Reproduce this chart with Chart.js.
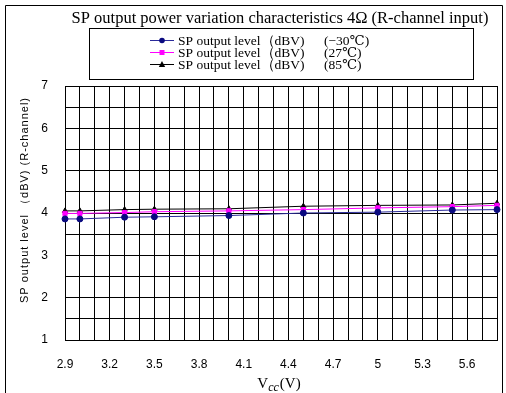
<!DOCTYPE html>
<html><head><meta charset="utf-8">
<script src="https://cdn.jsdelivr.net/npm/chart.js@4/dist/chart.umd.min.js"></script>
<style>html,body{margin:0;padding:0;background:#fff}canvas{display:block}</style>
</head><body>
<canvas id="c" width="506" height="393"></canvas>
<script>
const vcc = [2.9, 3.0, 3.3, 3.5, 4.0, 4.5, 5.0, 5.5, 5.8];
const levelM30 = [3.86, 3.86, 3.90, 3.91, 3.94, 4.00, 4.02, 4.07, 4.08];
const level27  = [3.99, 3.99, 4.01, 4.03, 4.05, 4.08, 4.12, 4.15, 4.18];
const level85  = [4.05, 4.05, 4.08, 4.09, 4.10, 4.16, 4.18, 4.19, 4.23];
const xGridValues = [2.9,3.0,3.1,3.2,3.3,3.4,3.5,3.6,3.7,3.8,3.9,4.0,4.1,4.2,4.3,4.4,4.5,4.6,4.7,4.8,4.9,5.0,5.1,5.2,5.3,5.4,5.5,5.6,5.7,5.8];
const xTickLabels = ['2.9','3.2','3.5','3.8','4.1','4.4','4.7','5','5.3','5.6'];
const yTickLabels = ['1','2','3','4','5','6','7'];
const seriesName = 'SP output level（dBV)';
const seriesTemps = ['(−30℃)', '(27℃)', '(85℃)'];
const chartTitle = 'SP output power variation characteristics 4Ω (R-channel input)';
const yTitle = 'SP output level （dBV) (R-channel)';

const colors = [
  {line:'#2a2a9a', point:'#0a0a80', style:'circle'},
  {line:'#ff00ff', point:'#ff00ff', style:'rect'},
  {line:'#000000', point:'#000000', style:'triangle'}
];
const seriesVals = [levelM30, level27, level85];

const datasets = seriesVals.map((vals, k) => ({
  label: seriesName + ' ' + seriesTemps[k],
  data: vcc.map((x, i) => ({x: x, y: vals[i]})),
  borderColor: colors[k].line,
  backgroundColor: colors[k].point,
  pointBackgroundColor: colors[k].point,
  pointBorderColor: colors[k].point,
  pointStyle: colors[k].style,
  pointRadius: 3,
  borderWidth: 1,
  tension: 0,
  clip: 6
}));

const deco = {
  id: 'deco',
  afterDraw(chart) {
    const ctx = chart.ctx;
    ctx.save();
    ctx.strokeStyle = '#000';
    ctx.lineWidth = 1;
    ctx.beginPath();
    ctx.moveTo(5.5, 400); ctx.lineTo(5.5, 5.5); ctx.lineTo(502.5, 5.5); ctx.lineTo(502.5, 400);
    ctx.stroke();
    ctx.fillStyle = '#000';
    ctx.font = '16.5px "Liberation Serif", "DejaVu Serif", serif';
    ctx.textAlign = 'center';
    ctx.textBaseline = 'middle';
    ctx.fillText(chartTitle, 280, 19);
    ctx.strokeRect(89.5, 28.5, 384, 51);
    const rows = [40, 52, 64];
    ctx.font = '13.5px "Liberation Serif", "DejaVu Serif", serif';
    ctx.textAlign = 'left';
    rows.forEach((y, k) => {
      ctx.strokeStyle = colors[k].line;
      ctx.beginPath(); ctx.moveTo(150, y + 0.5); ctx.lineTo(174, y + 0.5); ctx.stroke();
      ctx.fillStyle = colors[k].point;
      const cx = 162, cy = y + 0.5;
      ctx.beginPath();
      if (colors[k].style === 'circle') { ctx.arc(cx, cy, 2.8, 0, Math.PI * 2); }
      else if (colors[k].style === 'rect') { ctx.rect(cx - 2.5, cy - 2.5, 5, 5); }
      else { ctx.moveTo(cx, cy - 3.5); ctx.lineTo(cx + 3.2, cy + 2.5); ctx.lineTo(cx - 3.2, cy + 2.5); ctx.closePath(); }
      ctx.fill();
      ctx.fillStyle = '#000';
      ctx.fillText(seriesName, 178, y + 1);
      ctx.fillText(seriesTemps[k], 324, y + 1);
    });
    ctx.save();
    ctx.translate(25, 200);
    ctx.rotate(-Math.PI / 2);
    ctx.textAlign = 'center';
    ctx.font = '11px "Liberation Sans", Arial, sans-serif';
    ctx.letterSpacing = '1px';
    ctx.fillText(yTitle, 0, 0);
    ctx.restore();
    ctx.font = '15px "Liberation Serif", "DejaVu Serif", serif';
    ctx.textAlign = 'left';
    ctx.textBaseline = 'alphabetic';
    const base = 388;
    const wV = ctx.measureText('V').width;
    ctx.font = 'italic 12px "Liberation Serif", "DejaVu Serif", serif';
    const wcc = ctx.measureText('cc').width;
    ctx.font = '15px "Liberation Serif", "DejaVu Serif", serif';
    const wP = ctx.measureText('(V)').width;
    let x0 = 279 - (wV + wcc + 1 + wP) / 2;
    ctx.fillText('V', x0, base);
    ctx.font = 'italic 12px "Liberation Serif", "DejaVu Serif", serif';
    ctx.fillText('cc', x0 + wV, base + 3);
    ctx.font = '15px "Liberation Serif", "DejaVu Serif", serif';
    ctx.fillText('(V)', x0 + wV + wcc + 1, base);
    ctx.restore();
  }
};

new Chart(document.getElementById('c'), {
  type: 'line',
  data: { datasets },
  options: {
    responsive: false,
    animation: false,
    devicePixelRatio: 1,
    layout: { padding: { left: 0, right: 9, top: 86, bottom: 0 } },
    plugins: { legend: { display: false }, title: { display: false }, tooltip: { enabled: false } },
    scales: {
      x: {
        type: 'linear', min: 2.9, max: 5.8,
        afterBuildTicks(scale) { scale.ticks = xGridValues.map(v => ({ value: v })); },
        afterFit(scale) { scale.height = 53; scale.paddingLeft = 0; scale.paddingRight = 0; },
        grid: { color: '#000', lineWidth: 1, drawTicks: false },
        border: { color: '#000', width: 1 },
        ticks: {
          autoSkip: false, maxRotation: 0, minRotation: 0, padding: 17, color: '#000',
          font: { family: '"Liberation Sans", Arial, sans-serif', size: 12 },
          callback(value) {
            const lab = xTickLabels.find(l => Math.abs(Number(l) - value) < 1e-6);
            return lab === undefined ? '' : lab;
          }
        }
      },
      y: {
        min: 1, max: 7,
        afterFit(scale) { scale.width = 65; scale.paddingTop = 0; scale.paddingBottom = 0; },
        grid: { color: '#000', lineWidth: 1, drawTicks: false },
        border: { color: '#000', width: 1 },
        ticks: {
          stepSize: 0.5, padding: 17, color: '#000',
          font: { family: '"Liberation Sans", Arial, sans-serif', size: 12 },
          callback(value) {
            const lab = yTickLabels.find(l => Math.abs(Number(l) - value) < 1e-6);
            return lab === undefined ? '' : lab;
          }
        }
      }
    }
  },
  plugins: [deco]
});
</script>
</body></html>
